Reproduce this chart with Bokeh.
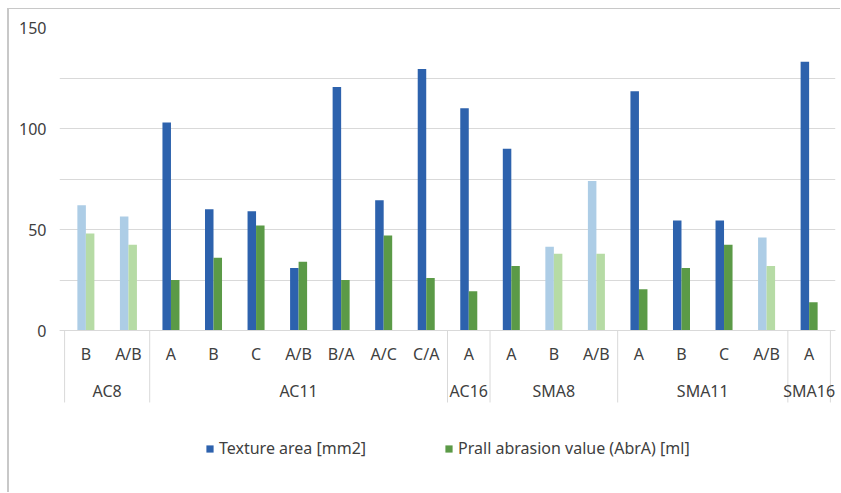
from bokeh.plotting import figure
from bokeh.models import (FactorRange, Range1d, FixedTicker, Legend, LegendItem,
                          ColumnDataSource)
from bokeh.transform import dodge
from bokeh.embed import file_html
from bokeh.resources import INLINE

groups = ["AC8", "AC8",
          "AC11", "AC11", "AC11", "AC11", "AC11", "AC11", "AC11",
          "AC16",
          "SMA8", "SMA8", "SMA8",
          "SMA11", "SMA11", "SMA11", "SMA11",
          "SMA16"]
subs = ["B", "A/B",
        "A", "B", "C", "A/B", "B/A", "A/C", "C/A",
        "A",
        "A", "B", "A/B",
        "A", "B", "C", "A/B",
        "A"]
texture_area = [62, 56.5, 103, 60, 59, 31, 120.5, 64.5, 129.5, 110,
                90, 41.5, 74, 118.5, 54.5, 54.5, 46, 133]
prall_abrasion = [48, 42.5, 25, 36, 52, 34, 25, 47, 26, 19.5,
                  32, 38, 38, 20.5, 31, 42.5, 32, 14]
faded = [True, True, False, False, False, False, False, False, False, False,
         False, True, True, False, False, False, True, False]
y_ticks = [0, 50, 100, 150]
y_minor_ticks = [25, 75, 125]

BLUE, LBLUE = "#2D62AD", "#ADCDE6"
GREEN, LGREEN = "#5B9A47", "#B6DBA5"
TXT = "#404040"
GRID = "#d9d9d9"
FRAME = "#c8c8c8"
FONT = "Noto Sans"

factors = list(zip(groups, subs))
src = ColumnDataSource(dict(
    x=factors,
    tex=texture_area,
    prall=prall_abrasion,
    tex_color=[LBLUE if f else BLUE for f in faded],
    prall_color=[LGREEN if f else GREEN for f in faded],
))

# group separators: at the start of every group and at the very end
sep_x = [(g, s, -0.5) for i, (g, s) in enumerate(factors) if i == 0 or groups[i - 1] != g]
sep_x.append((groups[-1], subs[-1], 0.5))
SEP_DEPTH = -35.6  # label band below the axis, in y units

chart_border = (f"linear-gradient({FRAME},{FRAME}) 7px 8px / 2px 100% no-repeat, "
                f"linear-gradient({FRAME},{FRAME}) 7px 8px / 100% 1px no-repeat, #ffffff")

p = figure(x_range=FactorRange(*factors, factor_padding=0, group_padding=0,
                               range_padding=0.12, range_padding_units="absolute"),
           y_range=Range1d(-76.2, 150),
           width=840, height=492, output_backend="svg", toolbar_location=None,
           min_border_left=59, min_border_right=5, min_border_top=27,
           min_border_bottom=8,
           styles={"background": chart_border})
p.border_fill_color = None
p.background_fill_color = None

r1 = p.vbar(x=dodge("x", -0.1, range=p.x_range), top="tex", width=0.2, source=src,
            fill_color="tex_color", line_color=None)
r2 = p.vbar(x=dodge("x", 0.1, range=p.x_range), top="prall", width=0.2, source=src,
            fill_color="prall_color", line_color=None)
p.segment(x0=sep_x, x1=sep_x, y0=[0] * len(sep_x), y1=[SEP_DEPTH] * len(sep_x),
          line_color=GRID, line_width=1)

p.outline_line_color = None
p.xgrid.grid_line_color = None

ticker = FixedTicker(ticks=y_ticks, minor_ticks=y_minor_ticks)
p.yaxis.ticker = ticker
p.ygrid.ticker = ticker
p.ygrid.grid_line_color = GRID
p.ygrid.minor_grid_line_color = GRID
p.yaxis.axis_line_color = None
p.yaxis.major_tick_line_color = None
p.yaxis.minor_tick_line_color = None
p.yaxis.major_tick_out = 0
p.yaxis.major_label_standoff = 9
p.yaxis.major_label_text_font = FONT
p.yaxis.major_label_text_font_size = "16px"
p.yaxis.major_label_text_color = TXT

xa = p.xaxis[0]
xa.fixed_location = 0
xa.axis_line_color = GRID
xa.major_tick_line_color = None
xa.major_tick_out = 0
xa.major_label_standoff = 12
xa.major_label_text_font = FONT
xa.major_label_text_font_size = "16px"
xa.major_label_text_color = TXT
xa.group_text_font = FONT
xa.group_text_font_size = "16px"
xa.group_text_color = TXT
xa.group_text_font_style = "normal"
xa.major_label_orientation = "horizontal"
xa.separator_line_color = None

legend = Legend(items=[
    LegendItem(label="Texture area [mm2]", renderers=[r1], index=2),
    LegendItem(label="Prall abrasion value (AbrA) [ml]", renderers=[r2], index=2),
], orientation="horizontal", location=(146, 25), spacing=78,
    glyph_width=9, glyph_height=9, label_standoff=5, padding=0, margin=0,
    label_text_font=FONT, label_text_font_size="16px", label_text_color=TXT,
    border_line_color=None, background_fill_alpha=0)
p.add_layout(legend, "center")

open("out.html", "w").write(file_html(p, INLINE))
